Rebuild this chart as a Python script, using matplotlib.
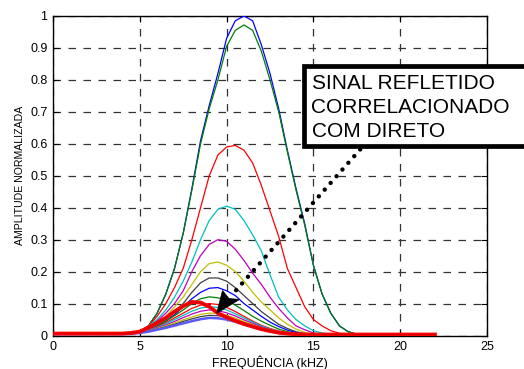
import matplotlib
matplotlib.use("Agg")
import matplotlib.pyplot as plt
import matplotlib.patches as mpatches
from matplotlib.transforms import Affine2D

plt.rcParams['font.family'] = ['Liberation Sans', 'DejaVu Sans']

# frequency grid (kHz)
freq = [0, 4, 4.5, 5, 5.5, 6, 6.5, 7, 7.5, 8, 8.5, 9, 9.5, 10, 10.5, 11, 11.5,
        12, 12.5, 13, 13.5, 14, 14.5, 15, 15.5, 16, 16.5, 17, 17.5, 18, 22]

blue1 = [0.005, 0.005, 0.007, 0.012, 0.03, 0.07, 0.13, 0.21, 0.32, 0.46, 0.61, 0.72, 0.82, 0.93, 0.985, 1.0, 0.985,
         0.91, 0.82, 0.71, 0.58, 0.46, 0.35, 0.22, 0.13, 0.07, 0.03, 0.012, 0.004, 0.002, 0.002]
green1 = [0.005, 0.005, 0.007, 0.012, 0.03, 0.07, 0.13, 0.21, 0.32, 0.455, 0.60, 0.71, 0.80, 0.905, 0.955, 0.972, 0.955,
          0.89, 0.80, 0.70, 0.575, 0.455, 0.345, 0.22, 0.13, 0.07, 0.03, 0.012, 0.004, 0.002, 0.002]
red1 = [0.005, 0.005, 0.007, 0.012, 0.03, 0.06, 0.10, 0.15, 0.21, 0.30, 0.40, 0.50, 0.565, 0.59, 0.595, 0.58, 0.54,
        0.47, 0.39, 0.31, 0.21, 0.15, 0.09, 0.05, 0.03, 0.015, 0.007, 0.003, 0.002, 0.002, 0.002]
cyan1 = [0.005, 0.005, 0.007, 0.012, 0.03, 0.05, 0.08, 0.12, 0.17, 0.23, 0.30, 0.36, 0.395, 0.405, 0.395, 0.36, 0.315,
         0.265, 0.19, 0.12, 0.08, 0.05, 0.03, 0.015, 0.008, 0.004, 0.002, 0.002, 0.002, 0.002, 0.002]
magenta1 = [0.005, 0.005, 0.007, 0.01, 0.025, 0.045, 0.07, 0.10, 0.14, 0.20, 0.25, 0.285, 0.30, 0.295, 0.27, 0.235, 0.195,
            0.16, 0.12, 0.085, 0.055, 0.03, 0.018, 0.008, 0.004, 0.002, 0.002, 0.002, 0.002, 0.002, 0.002]
yellow1 = [0.005, 0.005, 0.007, 0.01, 0.02, 0.04, 0.06, 0.09, 0.12, 0.16, 0.20, 0.225, 0.23, 0.22, 0.20, 0.17, 0.135,
           0.105, 0.08, 0.055, 0.035, 0.02, 0.01, 0.004, 0.002, 0.002, 0.002, 0.002, 0.002, 0.002, 0.002]
gray1 = [0.005, 0.005, 0.007, 0.01, 0.02, 0.035, 0.05, 0.075, 0.10, 0.135, 0.165, 0.18, 0.18, 0.17, 0.15, 0.125, 0.10,
         0.075, 0.055, 0.035, 0.022, 0.012, 0.006, 0.003, 0.002, 0.002, 0.002, 0.002, 0.002, 0.002, 0.002]
blue2 = [0.005, 0.005, 0.007, 0.008, 0.018, 0.03, 0.045, 0.065, 0.09, 0.115, 0.135, 0.148, 0.15, 0.14, 0.125, 0.10, 0.08,
         0.06, 0.042, 0.028, 0.017, 0.009, 0.004, 0.002, 0.002, 0.002, 0.002, 0.002, 0.002, 0.002, 0.002]
green2 = [0.005, 0.005, 0.007, 0.01, 0.018, 0.03, 0.045, 0.062, 0.08, 0.10, 0.115, 0.121, 0.118, 0.11, 0.095, 0.078, 0.06,
          0.045, 0.032, 0.02, 0.012, 0.006, 0.003, 0.002, 0.002, 0.002, 0.002, 0.002, 0.002, 0.002, 0.002]
red2 = [0.005, 0.005, 0.007, 0.01, 0.018, 0.028, 0.04, 0.055, 0.07, 0.085, 0.095, 0.10, 0.097, 0.088, 0.075, 0.06, 0.045,
        0.032, 0.022, 0.014, 0.008, 0.004, 0.003, 0.002, 0.002, 0.002, 0.002, 0.002, 0.002, 0.002, 0.002]
cyan2 = [0.005, 0.005, 0.007, 0.01, 0.017, 0.026, 0.037, 0.05, 0.063, 0.076, 0.086, 0.09, 0.088, 0.08, 0.068, 0.055, 0.042,
         0.03, 0.02, 0.013, 0.008, 0.004, 0.003, 0.002, 0.002, 0.002, 0.002, 0.002, 0.002, 0.002, 0.002]
magenta2 = [0.005, 0.005, 0.007, 0.01, 0.016, 0.024, 0.033, 0.044, 0.056, 0.067, 0.076, 0.08, 0.078, 0.071, 0.061, 0.049, 0.038,
            0.027, 0.018, 0.012, 0.007, 0.004, 0.003, 0.002, 0.002, 0.002, 0.002, 0.002, 0.002, 0.002, 0.002]
yellow2 = [0.005, 0.005, 0.007, 0.009, 0.015, 0.022, 0.03, 0.039, 0.049, 0.058, 0.066, 0.07, 0.069, 0.063, 0.054, 0.044, 0.034,
           0.024, 0.016, 0.01, 0.006, 0.004, 0.003, 0.002, 0.002, 0.002, 0.002, 0.002, 0.002, 0.002, 0.002]
gray2 = [0.005, 0.005, 0.007, 0.009, 0.014, 0.02, 0.027, 0.035, 0.044, 0.052, 0.059, 0.063, 0.062, 0.057, 0.049, 0.04, 0.031,
         0.022, 0.015, 0.009, 0.006, 0.004, 0.003, 0.002, 0.002, 0.002, 0.002, 0.002, 0.002, 0.002, 0.002]
blue3 = [0.004, 0.004, 0.005, 0.008, 0.012, 0.018, 0.024, 0.031, 0.038, 0.045, 0.051, 0.055, 0.054, 0.05, 0.043, 0.035, 0.027,
         0.019, 0.013, 0.008, 0.005, 0.003, 0.003, 0.003, 0.003, 0.003, 0.003, 0.003, 0.003, 0.003, 0.003]
red_bundle = [0.006, 0.006, 0.008, 0.012, 0.025, 0.04, 0.055, 0.075, 0.092, 0.105, 0.103, 0.09, 0.07, 0.057, 0.046, 0.036, 0.028,
              0.02, 0.014, 0.009, 0.006, 0.004, 0.003, 0.003, 0.003, 0.003, 0.003, 0.003, 0.003, 0.003, 0.003]

series = [
    (blue1, (0, 0, 1), 0.9), (green1, (0, 0.5, 0), 0.9), (red1, (1, 0, 0), 0.9),
    (cyan1, (0, 0.75, 0.75), 0.9), (magenta1, (0.75, 0, 0.75), 0.9), (yellow1, (0.75, 0.75, 0), 0.9),
    (gray1, (0.25, 0.25, 0.25), 0.9), (blue2, (0, 0, 1), 0.9), (green2, (0, 0.5, 0), 0.9),
    (red2, (1, 0, 0), 0.9), (cyan2, (0, 0.75, 0.75), 0.9), (magenta2, (0.75, 0, 0.75), 0.9),
    (yellow2, (0.75, 0.75, 0), 0.9), (gray2, (0.25, 0.25, 0.25), 0.9), (blue3, (0.35, 0.35, 1), 1.8),
]

xticks = [0, 5, 10, 15, 20, 25]
xticklabels = ['0', '5', '10', '15', '20', '25']
yticks = [0, 0.1, 0.2, 0.3, 0.4, 0.5, 0.6, 0.7, 0.8, 0.9, 1]
yticklabels = ['0', '0.1', '0.2', '0.3', '0.4', '0.5', '0.6', '0.7', '0.8', '0.9', '1']

W, H = 524, 369
fig = plt.figure(figsize=(W / 100, H / 100), dpi=100)
ax = fig.add_axes([53 / W, 1 - 335.5 / H, (487 - 53) / W, (335.5 - 16) / H])

for vals, col, lw in series:
    ax.plot(freq, vals, color=col, lw=lw, zorder=3)
ax.plot(freq, red_bundle, color=(1, 0, 0), lw=2.8, zorder=4)
ax.plot(freq, red_bundle, color=(0.85, 0, 0), lw=0.8, zorder=4)

ax.set_xlim(0, 25)
ax.set_ylim(0, 1)
ax.set_xticks(xticks)
ax.set_xticklabels(xticklabels)
ax.set_yticks(yticks)
ax.set_yticklabels(yticklabels)
ax.tick_params(direction='in', length=4, width=0.8, top=True, right=True, labelsize=9, pad=4)
ax.grid(True, color='0.2', lw=0.9, linestyle=(0, (6, 6)))
for s in ax.spines.values():
    s.set_linewidth(1.0)
ax.set_xlabel('FREQUÊNCIA (kHZ)', fontsize=9, labelpad=2)
ax.set_ylabel('AMPLITUDE NORMALIZADA', fontsize=7.6, labelpad=4)

# pixel transform (y down)
px = Affine2D().scale(1 / W, -1 / H).translate(0, 1) + fig.transFigure

# dotted arrow
ln = plt.Line2D([372, 231], [136, 296], transform=px, color='black', lw=3.2,
                linestyle=(0, (0.01, 2.0)), dash_capstyle='round', zorder=6)
fig.add_artist(ln)
head = mpatches.Polygon([[216.7, 313.3], [222.5, 290.5], [229.0, 298.5], [239.5, 299.5]],
                        closed=True, transform=px, facecolor='black', edgecolor='black', lw=0.5, zorder=6)
fig.add_artist(head)

# text box
box = mpatches.Rectangle((304, 65.7), 260, 80, transform=px, facecolor='white',
                         edgecolor='black', lw=3.4, zorder=7, clip_on=False)
fig.add_artist(box)
lines_txt = ['SINAL REFLETIDO', 'CORRELACIONADO', 'COM DIRETO']
baselines = [89.3, 113.5, 137.3]
for t, b in zip(lines_txt, baselines):
    fig.text(311.5 / W, 1 - b / H, t, fontsize=15, va='baseline', ha='left', zorder=8)

fig.savefig('out.png', dpi=100)
